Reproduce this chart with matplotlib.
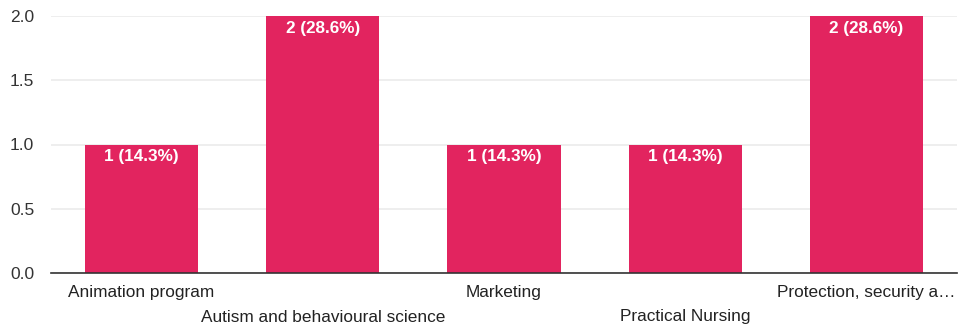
import matplotlib.pyplot as plt

plt.rcParams['font.family'] = ['Liberation Sans', 'DejaVu Sans']

categories = ['Animation program', 'Autism and behavioural science', 'Marketing',
              'Practical Nursing', 'Protection, security a\u2026']
counts = [1, 2, 1, 1, 2]
percents = [14.3, 28.6, 14.3, 14.3, 28.6]
yticks = [0.0, 0.5, 1.0, 1.5, 2.0]

bar_color = '#e2245f'

fig = plt.figure(figsize=(9.6, 3.3), dpi=100)
ax = fig.add_axes([51 / 960, 1 - 273 / 330, 906 / 960, 257 / 330])

x = list(range(len(categories)))
bars = ax.bar(x, counts, width=0.625, color=bar_color, zorder=3)

# value labels inside the top of each bar
for xi, c, p in zip(x, counts, percents):
    ax.annotate(f'{c} ({p}%)', (xi, c), xytext=(0, -5), textcoords='offset pixels',
                ha='center', va='top', color='white', fontsize=12.3,
                fontweight='bold', zorder=4)

ax.set_xlim(-0.5, len(categories) - 0.5)
ax.set_ylim(0, 2.0)
ax.set_yticks(yticks)
ax.set_yticklabels([f'{v:.1f}' for v in yticks])
ax.yaxis.grid(True, color='#ebebeb', linewidth=1.2, zorder=0)
ax.tick_params(axis='y', length=0, pad=12, labelsize=12.5, labelcolor='#333333')

# staggered category labels
ax.set_xticks([])
for xi, name in zip(x, categories):
    yoff = -20 if xi % 2 == 0 else -44
    ax.annotate(name, (xi, 0), xytext=(0, yoff), textcoords='offset pixels',
                xycoords='data', ha='center', va='center', fontsize=12.4,
                color='#222222', annotation_clip=False)

for side in ['top', 'right', 'left']:
    ax.spines[side].set_visible(False)
ax.spines['bottom'].set_color('#333333')
ax.spines['bottom'].set_linewidth(1.2)
ax.spines['bottom'].set_zorder(5)

fig.savefig('out.png', dpi=100)
